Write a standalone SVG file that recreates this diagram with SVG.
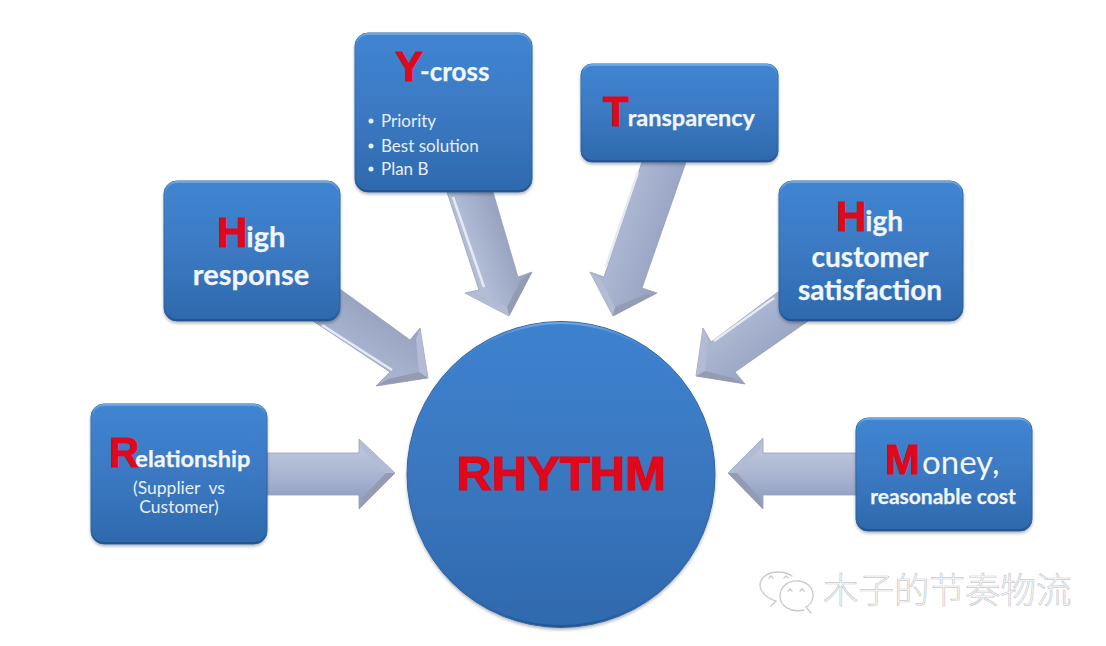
<svg xmlns="http://www.w3.org/2000/svg" width="1106" height="646" viewBox="0 0 1106 646">
<style>
text{font-family:"Lato","Liberation Sans",sans-serif;font-weight:700;fill:#f2f6fb;stroke:#f2f6fb;stroke-width:.25}
.r{font-family:"Liberation Sans",sans-serif;fill:#e0081c;stroke:#dc061a;stroke-width:.9}
.sm{font-weight:400;font-size:17px;fill:#e8eff8;stroke:none}
.box{fill:url(#bx);stroke:#2f659f;stroke-width:1;filter:url(#sh)}
.hl{fill:none;stroke:url(#hlg);stroke-width:2}
.ar{stroke:#969fb5;stroke-width:.8;stroke-linejoin:round}
.e1{fill:none;stroke:#e6eaf3;stroke-width:2.500;filter:url(#bl)}
.fl{fill:#b4bcd5;filter:url(#bl)}
.fd{fill:#939cb3;filter:url(#bl)}
.wm{font-family:"Noto Sans CJK SC",sans-serif;font-weight:300;font-size:35.500px;fill:#fff;stroke:#c8cacc;stroke-width:.7}
.wi{fill:none;stroke:#c8cacc;stroke-width:1.300;stroke-linecap:round}
</style>
<defs>
<linearGradient id="bx" x1="0" y1="0" x2="0" y2="1"><stop offset="0" stop-color="#4085d2"/><stop offset=".5" stop-color="#3b79c2"/><stop offset="1" stop-color="#2e69ad"/></linearGradient>
<linearGradient id="hlg" x1="0" y1="0" x2="0" y2="1"><stop offset="0" stop-color="#6fa6e2"/><stop offset=".08" stop-color="#4a8dd6" stop-opacity=".3"/><stop offset=".92" stop-color="#2a5f9e" stop-opacity=".2"/><stop offset="1" stop-color="#24548f"/></linearGradient>
<linearGradient id="ci" x1="0" y1="0" x2="0" y2="1"><stop offset="0" stop-color="#3d82cf"/><stop offset=".5" stop-color="#3a77bf"/><stop offset="1" stop-color="#2f69ae"/></linearGradient>
<linearGradient id="a1" gradientUnits="userSpaceOnUse" x1="0" y1="453" x2="0" y2="495"><stop offset="0" stop-color="#b9c3db"/><stop offset=".7" stop-color="#a3afce"/><stop offset="1" stop-color="#97a3c2"/></linearGradient>
<linearGradient id="a2" gradientUnits="userSpaceOnUse" x1="378" y1="310" x2="352" y2="350"><stop offset="0" stop-color="#98a3bf"/><stop offset="1" stop-color="#a9b4d0"/></linearGradient>
<linearGradient id="a3" gradientUnits="userSpaceOnUse" x1="470" y1="250" x2="510" y2="235"><stop offset="0" stop-color="#b3bdd6"/><stop offset="1" stop-color="#95a1bf"/></linearGradient>
<linearGradient id="a4" gradientUnits="userSpaceOnUse" x1="625" y1="220" x2="670" y2="235"><stop offset="0" stop-color="#aab6d2"/><stop offset="1" stop-color="#97a3c1"/></linearGradient>
<linearGradient id="a5" gradientUnits="userSpaceOnUse" x1="745" y1="320" x2="770" y2="350"><stop offset="0" stop-color="#abb6d1"/><stop offset="1" stop-color="#9ba7c5"/></linearGradient>
<filter id="sh" x="-10%" y="-10%" width="120%" height="120%"><feDropShadow dx="0" dy="2" stdDeviation="1.800" flood-color="#000" flood-opacity=".28"/></filter>
<filter id="bl" x="-20%" y="-20%" width="140%" height="140%"><feGaussianBlur stdDeviation=".7"/></filter>
</defs>
<rect width="1106" height="646" fill="#fff"/>
<g id="connectors">
<g id="arrow-relationship">
<polygon class="ar" fill="url(#a1)" points="267,453 359,453 359,439 395,473 359,509 359,495 267,495"/>
<path class="e1" d="M267 489H360"/>
<polygon class="fl" points="395,473 359,439 362,449 386,473"/><polygon class="fd" points="395,473 359,509 362,498 386,473"/>
</g>
<g id="arrow-money">
<polygon class="ar" fill="url(#a1)" points="856,453 763,453 763,438 728,473 763,509 763,495 856,495"/>
<path class="e1" d="M856 489H768"/>
<polygon class="fl" points="728,473 763,438 760,449 737,473"/><polygon class="fd" points="728,473 763,509 760,498 737,473"/>
</g>
<g id="arrow-high-response">
<polygon class="ar" fill="url(#a2)" points="340,289 410,340 420,328 428,378 376,386 390,372 313,321"/>
<path class="e1" d="M322 325L392 370"/>
<polygon class="fl" points="428,378 420,328 416,339 419,372"/><polygon class="fd" points="428,378 376,386 388,379 419,372"/>
</g>
<g id="arrow-y-cross">
<polygon class="ar" fill="url(#a3)" points="447,192 493,192 518,277 532,272 509,316 465,293 479,290"/>
<path class="e1" d="M453 197L484 287"/>
<polygon class="fd" points="509,316 532,272 521,280 507,307"/><polygon class="fl" points="509,316 465,293 478,295 507,307"/>
</g>
<g id="arrow-transparency">
<polygon class="ar" fill="url(#a4)" points="642,162 686,162 642,288 657,293 613,316 590,272 604,277"/>
<path class="e1" d="M638 172L606 266"/>
<polygon class="fl" points="613,316 590,272 601,280 615,307"/><polygon class="fd" points="613,316 657,293 644,295 615,307"/>
</g>
<g id="arrow-high-customer">
<polygon class="ar" fill="url(#a5)" points="778,292 711,342 703,328 696,376 745,384 735,372 808,321"/>
<path class="e1" d="M774 298L714 341"/>
<polygon class="fl" points="696,376 703,328 708,339 705,371"/><polygon class="fd" points="696,376 745,384 733,378 705,371"/>
</g>
</g>
<g id="node-rhythm">
<ellipse cx="561" cy="474.500" rx="154" ry="153" fill="url(#ci)" stroke="#2f659f" filter="url(#sh)"/>
<ellipse cx="561" cy="474.500" rx="152.500" ry="151.500" fill="none" stroke="url(#hlg)" stroke-width="2"/>
<text class="r" x="561" y="490" text-anchor="middle" font-size="49" font-weight="700" style="stroke-width:1.200">RHYTHM</text>
</g>
<g id="node-relationship">
<rect class="box" x="91" y="404" width="176" height="140" rx="13"/>
<rect class="hl" x="92" y="405" width="174" height="138" rx="12"/>
<text y="467" x="109" font-size="23.500"><tspan class="r" font-size="42">R</tspan><tspan dx="-4">elationship</tspan></text>
<text class="sm" x="179" y="494" text-anchor="middle" style="white-space:pre;font-size:17.500px">(Supplier  vs</text>
<text class="sm" x="179" y="513" text-anchor="middle" style="font-size:17.500px">Customer)</text>
</g>
<g id="node-high-response">
<rect class="box" x="164" y="181" width="176" height="140" rx="13"/>
<rect class="hl" x="165" y="182" width="174" height="138" rx="12"/>
<text y="247" x="217" font-size="29"><tspan class="r" font-size="42">H</tspan><tspan dx="-1">igh</tspan></text>
<text x="251" y="285" font-size="29" text-anchor="middle">response</text>
</g>
<g id="node-y-cross">
<rect class="box" x="355" y="33" width="177" height="159" rx="13"/>
<rect class="hl" x="356" y="34" width="175" height="157" rx="12"/>
<text y="81" x="395" font-size="26"><tspan class="r" font-size="42">Y</tspan><tspan dx="-3">-cross</tspan></text>
<circle cx="371" cy="121" r="2.500" fill="#e8eff8"/><text class="sm" x="381" y="127">Priority</text>
<circle cx="371" cy="146" r="2.500" fill="#e8eff8"/><text class="sm" x="381" y="152">Best solution</text>
<circle cx="371" cy="169" r="2.500" fill="#e8eff8"/><text class="sm" x="381" y="175">Plan B</text>
</g>
<g id="node-transparency">
<rect class="box" x="581" y="64" width="197" height="98" rx="11"/>
<rect class="hl" x="582" y="65" width="195" height="96" rx="10"/>
<text y="126" x="603" font-size="23.500"><tspan class="r" font-size="42">T</tspan><tspan dx="-1">ransparency</tspan></text>
</g>
<g id="node-high-customer">
<rect class="box" x="779" y="181" width="184" height="140" rx="13"/>
<rect class="hl" x="780" y="182" width="182" height="138" rx="12"/>
<text y="231" x="836" font-size="28"><tspan class="r" font-size="42">H</tspan><tspan dx="-1">igh</tspan></text>
<text x="870" y="267" font-size="28" text-anchor="middle">customer</text>
<text x="870" y="300" font-size="28" text-anchor="middle">satisfaction</text>
</g>
<g id="node-money">
<rect class="box" x="856" y="418" width="176" height="113" rx="12"/>
<rect class="hl" x="857" y="419" width="174" height="111" rx="11"/>
<text y="474" x="885" font-size="33"><tspan class="r" font-size="42">M</tspan><tspan font-weight="400" dx="2" style="stroke:none">oney,</tspan></text>
<text x="943" y="504" font-size="21" text-anchor="middle">reasonable cost</text>
</g>
<g id="watermark">
<path class="wi" d="M776 601C762 597 757 586 762 579C767 572 781 569 792 576M776 601L771 606"/>
<path class="wi" d="M804 610C790 613 780 606 780 596C780 586 789 580 799 581C808 582 814 589 813 597C812 603 808 606 806 607L811 613"/>
<path class="wi" d="M769 578L771 576L773 578M784 578L786 576L788 578M788 591L790 589L792 591M800 591L802 589L804 591"/>
<text class="wm" x="823" y="603">木子的节奏物流</text>
</g>
</svg>
